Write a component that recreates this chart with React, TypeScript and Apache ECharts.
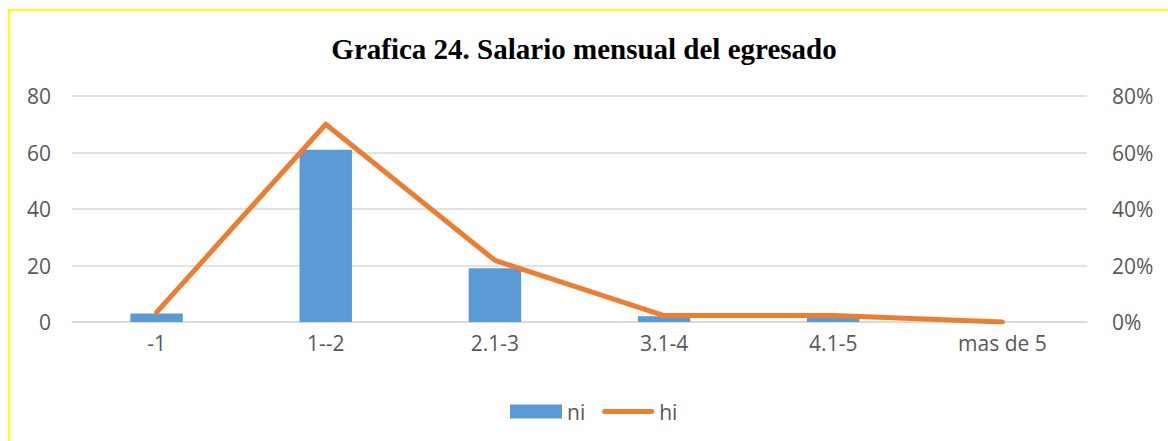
import React, { useEffect, useRef } from "react";
import * as echarts from "echarts";

const categories = ["-1", "1--2", "2.1-3", "3.1-4", "4.1-5", "mas de 5"];
const niValues = [3, 61, 19, 2, 2, 0];
const hiValues = [0.034, 0.70, 0.218, 0.023, 0.023, 0];
const leftTicks = { min: 0, max: 80, interval: 20 };
const rightTicks = { min: 0, max: 0.8, interval: 0.2 };

export default function App() {
  const ref = useRef<HTMLDivElement>(null);
  useEffect(() => {
    if (!ref.current) return;
    const chart = echarts.init(ref.current, null, { renderer: "svg" });
    const font = "'Open Sans', 'Noto Sans', sans-serif";
    chart.setOption({
      animation: false,
      backgroundColor: "#ffffff",
      title: {
        text: "Grafica 24. Salario mensual del egresado",
        left: "center",
        top: 29,
        textStyle: {
          fontFamily: "'Liberation Serif', 'Times New Roman', serif",
          fontWeight: "bold",
          fontSize: 29,
          color: "#000000",
        },
      },
      graphic: [
        {
          type: "rect",
          shape: { x: 9, y: 10, width: 1300, height: 600 },
          style: { fill: "none", stroke: "#FFFF00", lineWidth: 2 },
          silent: true,
        },
      ],
      legend: {
        top: 396,
        left: 505,
        itemWidth: 52,
        itemHeight: 14,
        itemGap: 17,
        textStyle: { fontFamily: font, fontSize: 21, color: "#595959" },
        data: [
          { name: "ni", icon: "rect" },
          { name: "hi", icon: "path://M2.5,0 L49.5,0 A2.5,2.5 0 0 1 49.5,5 L2.5,5 A2.5,2.5 0 0 1 2.5,0 Z" },
        ],
      },
      grid: { left: 72, right: 81, top: 96, bottom: 119, containLabel: false },
      xAxis: {
        type: "category",
        data: categories,
        axisTick: { show: false },
        axisLine: { lineStyle: { color: "#D9D9D9", width: 1.5 } },
        axisLabel: { color: "#595959", fontSize: 21, fontFamily: font, margin: 10 },
      },
      yAxis: [
        {
          type: "value",
          ...leftTicks,
          axisLabel: { color: "#595959", fontSize: 21, fontFamily: font, margin: 21 },
          splitLine: { lineStyle: { color: "#D9D9D9", width: 1.5 } },
          axisLine: { show: false },
          axisTick: { show: false },
        },
        {
          type: "value",
          ...rightTicks,
          position: "right",
          axisLabel: {
            color: "#595959",
            fontSize: 21,
            fontFamily: font,
            margin: 25,
            formatter: (v: number) => Math.round(v * 100) + "%",
          },
          splitLine: { show: false },
          axisLine: { show: false },
          axisTick: { show: false },
        },
      ],
      series: [
        {
          name: "ni",
          type: "bar",
          data: niValues,
          barWidth: "31%",
          itemStyle: { color: "#5B9BD5" },
          yAxisIndex: 0,
        },
        {
          name: "hi",
          type: "line",
          data: hiValues,
          yAxisIndex: 1,
          symbol: "none",
          lineStyle: { color: "#ED7D31", width: 5, cap: "round", join: "round" },
          itemStyle: { color: "#ED7D31" },
        },
      ],
    });
    return () => chart.dispose();
  }, []);
  return (
    <div
      ref={ref}
      style={{ position: "fixed", left: 0, top: 0, width: 1168, height: 441 }}
    />
  );
}
